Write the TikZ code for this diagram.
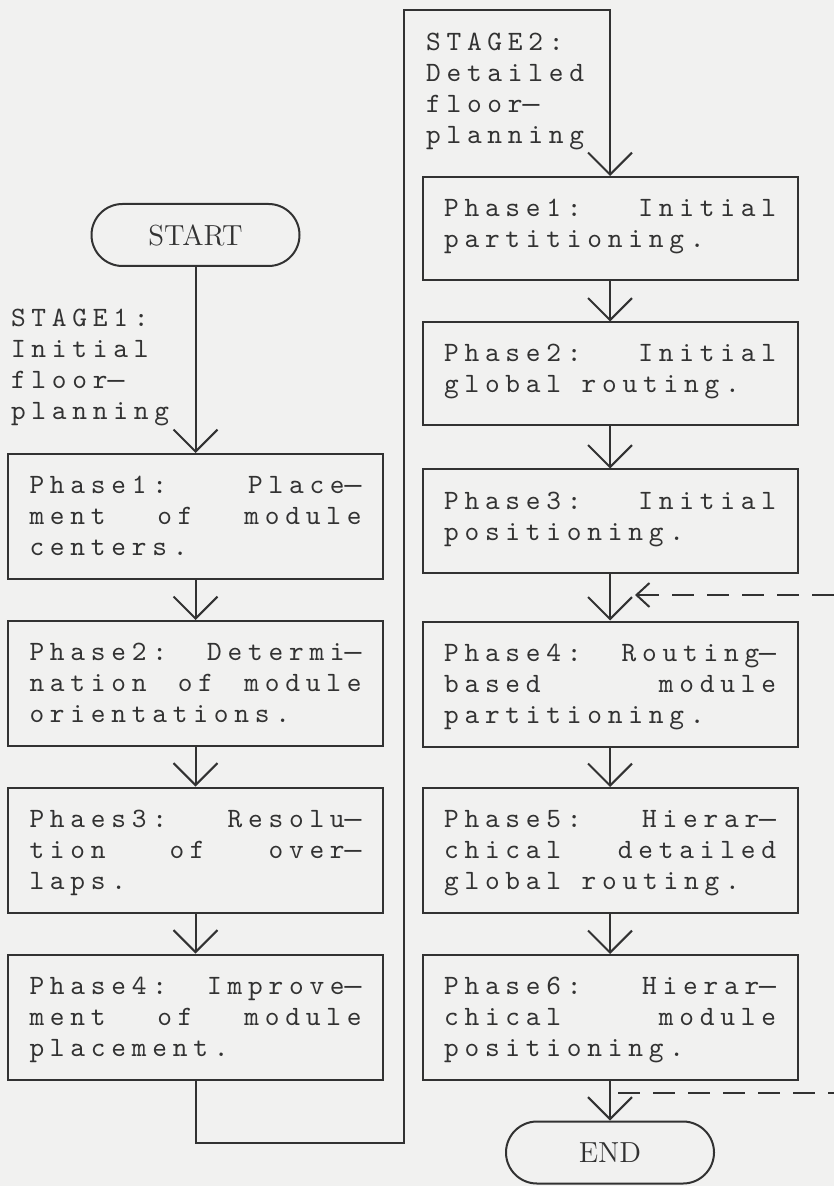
\documentclass[tikz,border=0pt]{standalone}
\usepackage{fontspec}
\usetikzlibrary{arrows.meta}

\newfontfamily\flowmono[LetterSpace=20.7]{lmmono10-regular.otf}
\newfontfamily\dashfont{Liberation Mono}
\newcommand\phasefont{\flowmono\fontsize{14}{15.5}\selectfont}
\newcommand\termfont{\fontsize{14.5}{17}\selectfont}
\newcommand\ld{{\dashfont—}}
\newlength\phw
\setlength\phw{166pt}
% one justified line, and the top aligned text of a box
\newcommand\jl[1]{\makebox[\phw][s]{#1}}
\newcommand\ptxt[2][44.7pt]{\parbox[c][#1][t]{\phw}{\strut#2}}

\definecolor{paper}{RGB}{241,241,240}
\definecolor{ink}{RGB}{50,50,50}

\begin{document}
\begin{tikzpicture}[x=0.5pt,y=-0.5pt,line width=1pt,color=ink,
  phase/.style={draw,inner xsep=10.75pt,inner ysep=8.9pt,font=\phasefont},
  term/.style={draw,rounded corners=15.5pt,minimum width=104pt,minimum height=31pt,inner sep=0pt,font=\termfont},
  stage/.style={anchor=north west,inner sep=0pt,align=left,font=\phasefont},
  flow/.style={-{Straight Barb[length=11pt,width=22pt]}},
  feedback/.style={dash pattern=on 11pt off 6.5pt}]
  \useasboundingbox (0,0) rectangle (834,1186);
  \fill[paper] (0,0) rectangle (834,1186);

  % stage 1
  \node[term] (start) at (195.5,235) {START};
  \node[stage] (stage1) at (10,308) {STAGE1:\\Initial\\floor\ld\\planning};
  \node[phase] (l1) at (195.5,516.5) {\ptxt{\jl{Phase1:\hfill Place\ld}\\\jl{ment\hfill of\hfill module}\\centers.}};
  \node[phase] (l2) at (195.5,683.5) {\ptxt{\jl{Phase2:\hfill Determi\ld}\\\jl{nation\hfill of\hfill module}\\orientations.}};
  \node[phase] (l3) at (195.5,850) {\ptxt{\jl{Phaes3:\hfill Resolu\ld}\\\jl{tion\hfill of\hfill over\ld}\\laps.}};
  \node[phase] (l4) at (195.5,1017) {\ptxt{\jl{Phase4:\hfill Improve\ld}\\\jl{ment\hfill of\hfill module}\\placement.}};

  % stage 2
  \node[stage] (stage2) at (425,32) {STAGE2:\\Detailed\\floor\ld\\planning};
  \node[phase] (r1) at (610,228.5) {\ptxt[33.7pt]{\jl{Phase1:\hfill Initial}\\partitioning.}};
  \node[phase] (r2) at (610,374) {\ptxt[33.7pt]{\jl{Phase2:\hfill Initial}\\global routing.}};
  \node[phase] (r3) at (610,521) {\ptxt[33.7pt]{\jl{Phase3:\hfill Initial}\\positioning.}};
  \node[phase] (r4) at (610,684) {\ptxt{\jl{Phase4:\hfill Routing\ld}\\\jl{based\hfill module}\\partitioning.}};
  \node[phase] (r5) at (610,850.5) {\ptxt{\jl{Phase5:\hfill Hierar\ld}\\\jl{chical\hfill detailed}\\global routing.}};
  \node[phase] (r6) at (610,1017.5) {\ptxt{\jl{Phase6:\hfill Hierar\ld}\\\jl{chical\hfill module}\\positioning.}};
  \node[term] (finish) at (610,1152.5) {END};

  \foreach \a/\b in {start/l1,l1/l2,l2/l3,l3/l4,r1/r2,r2/r3,r3/r4,r4/r5,r5/r6,r6/finish}
    \draw[flow] (\a.south) -- (\b.north);

  % from stage 1 over to stage 2
  \coordinate (loop-b) at (404,1143);
  \coordinate (loop-t) at (404,10);
  \draw[flow] (l4.south) |- (loop-b) -- (loop-t) -| (r1.north);

  % feedback lines, running off the right edge
  \coordinate (fb-in) at (635,595);
  \coordinate (fb-in-far) at (834,595);
  \coordinate (fb-out) at (618,1093);
  \coordinate (fb-out-far) at (834,1093);
  \draw[feedback,{Straight Barb[length=6.5pt,width=12pt]}-] (fb-in) -- (fb-in-far);
  \draw[feedback] (fb-out) -- (fb-out-far);
\end{tikzpicture}
\end{document}
